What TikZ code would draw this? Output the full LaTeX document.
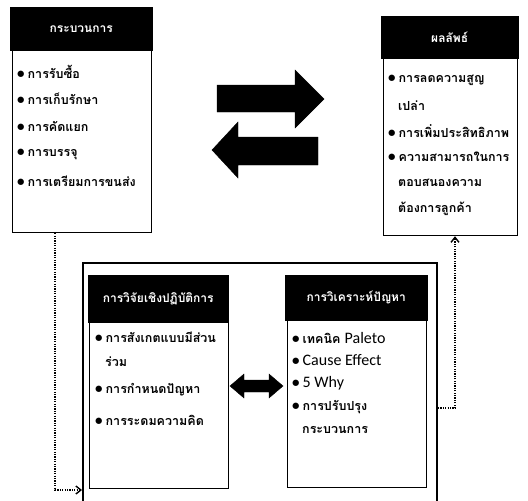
\documentclass[tikz,border=0pt]{standalone}
\usepackage{fontspec}
\setmainfont{Carlito}
\newfontfamily\thai[Script=Thai]{Loma}
\usetikzlibrary{arrows.meta}
\newcommand{\blt}{{\rmfamily\bfseries\fontsize{15}{15}\selectfont\textbullet}\hspace{3pt}}
\tikzset{
  hdr/.style={fill=black, draw=black, text=white, font=\thai\bfseries\fontsize{12}{12}\selectfont, inner sep=0, anchor=north west},
  bodybox/.style={draw=black, line width=1.2pt, inner sep=0, anchor=north west},
  bigbox/.style={draw=black, line width=2pt, inner sep=0, anchor=north west},
  item/.style={anchor=west, inner sep=0, font=\thai\bfseries\fontsize{12.5}{12.5}\selectfont},
  latitem/.style={anchor=west, inner sep=0, font=\rmfamily\fontsize{16}{16}\selectfont},
  conn/.style={dash pattern=on 1.2pt off 1.2pt, line width=1.6pt, -{Straight Barb[length=5pt,width=8pt,line width=1.4pt]}},
  blockarrow/.style={fill=black, draw=black}
}
\begin{document}
\begin{tikzpicture}[x=1pt,y=-1pt]
\useasboundingbox (0,0) rectangle (528,501);
% top left
\node[bodybox, minimum width=139, minimum height=182] (b1) at (12,50) {};
\node[hdr, minimum width=142, minimum height=43] (h1) at (10,7) {กระบวนการ};
\node[item] (i11) at (17,72) {\blt การรับซื้อ};
\node[item] (i12) at (17,99) {\blt การเก็บรักษา};
\node[item] (i13) at (17,126) {\blt การคัดแยก};
\node[item] (i14) at (17,154) {\blt การบรรจุ};
\node[item] (i15) at (17,181) {\blt การเตรียมการขนส่ง};
% top right
\node[bodybox, minimum width=134, minimum height=177] (b2) at (383,58) {};
\node[hdr, minimum width=137, minimum height=42] (h2) at (381,16) {ผลลัพธ์};
\node[item] (i21) at (388,80) {\blt การลดความสูญ};
\node[item] (i22) at (398,106) {เปล่า};
\node[item] (i23) at (388,131) {\blt การเพิ่มประสิทธิภาพ};
\node[item] (i24) at (388,157) {\blt ความสามารถในการ};
\node[item] (i25) at (398,183) {ตอบสนองความ};
\node[item] (i26) at (398,209) {ต้องการลูกค้า};
% block arrows
\fill[blockarrow] (217,85) -- (295,85) -- (295,70) -- (324,99) -- (295,128) -- (295,112) -- (217,112) -- cycle;
\fill[blockarrow] (318,137) -- (238,137) -- (238,122) -- (212,150) -- (238,178) -- (238,165) -- (318,165) -- cycle;
% big box
\node[bigbox, minimum width=354, minimum height=242] (big) at (82,262) {};
% inner left
\node[bodybox, minimum width=139, minimum height=166] (b3) at (89,322) {};
\node[hdr, minimum width=140, minimum height=47] (h3) at (88,275) {การวิจัยเชิงปฏิบัติการ};
\node[item] (i31) at (95,337) {\blt การสังเกตแบบมีส่วน};
\node[item] (i32) at (105,362) {ร่วม};
\node[item] (i33) at (95,390) {\blt การกำหนดปัญหา};
\node[item] (i34) at (95,420) {\blt การระดมความคิด};
% inner right
\node[bodybox, minimum width=139, minimum height=167] (b4) at (287,320) {};
\node[hdr, minimum width=142, minimum height=45] (h4) at (285,275) {การวิเคราะห์ปัญหา};
\node[item] (i41) at (292,338) {\blt เทคนิค {\rmfamily\mdseries\fontsize{16}{16}\selectfont Paleto}};
\node[latitem] (i42) at (292,360) {\blt Cause Effect};
\node[latitem] (i43) at (292,383) {\blt 5 Why};
\node[item] (i44) at (292,407) {\blt การปรับปรุง};
\node[item] (i45) at (302,430) {กระบวนการ};
% double arrow
\fill[blockarrow] (230,386) -- (244,374) -- (244,380) -- (269,380) -- (269,374) -- (283,386) -- (269,398) -- (269,392) -- (244,392) -- (244,398) -- cycle;
% connectors
\coordinate (c1) at (55,490);
\draw[conn] (b1.south -| c1) -- (c1) -- (big.west |- c1);
\coordinate (c2) at (455,408);
\draw[conn] (big.east |- c2) -- (c2) -- (b2.south -| c2);
\end{tikzpicture}
\end{document}
